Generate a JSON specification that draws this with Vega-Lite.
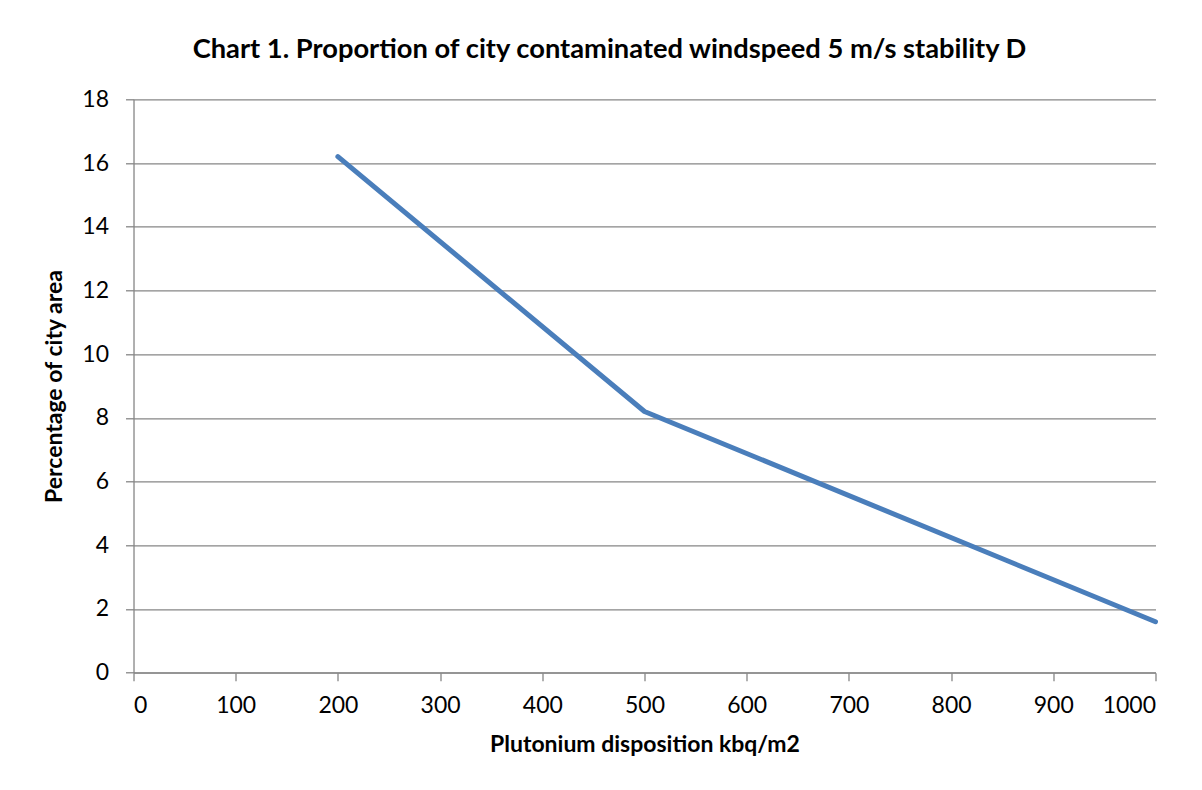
{
  "$schema": "https://vega.github.io/schema/vega-lite/v6.json",
  "autosize": {"type": "none"},
  "padding": {"left": 133.5, "top": 99.3, "right": 46, "bottom": 117},
  "width": 1022,
  "height": 573.4,
  "background": "#ffffff",
  "title": {
    "text": "Chart 1. Proportion of city contaminated windspeed 5 m/s stability D",
    "font": "Lato",
    "fontSize": 27.3,
    "fontWeight": "bold",
    "color": "#000000",
    "anchor": "middle",
    "frame": "group",
    "baseline": "alphabetic",
    "offset": 3,
    "dx": -35
  },
  "data": {
    "values": [
      {"deposition": 200, "percentage": 16.2},
      {"deposition": 500, "percentage": 8.2},
      {"deposition": 1000, "percentage": 1.6}
    ]
  },
  "mark": {"type": "line", "color": "#4a7ebb", "strokeWidth": 5, "strokeCap": "round", "strokeJoin": "round"},
  "encoding": {
    "x": {
      "field": "deposition",
      "type": "quantitative",
      "scale": {"domain": [0, 1000], "nice": false, "zero": true},
      "axis": {
        "title": "Plutonium disposition kbq/m2",
        "values": [0, 100, 200, 300, 400, 500, 600, 700, 800, 900, 1000],
        "format": "d",
        "grid": false,
        "labelPadding": 14,
        "titlePadding": 16
      }
    },
    "y": {
      "field": "percentage",
      "type": "quantitative",
      "scale": {"domain": [0, 18], "nice": false},
      "axis": {
        "title": "Percentage of city area",
        "values": [0, 2, 4, 6, 8, 10, 12, 14, 16, 18],
        "format": "d",
        "grid": true,
        "labelPadding": 17,
        "titlePadding": 15
      }
    }
  },
  "config": {
    "view": {"stroke": null},
    "axis": {
      "labelFont": "Lato",
      "labelFontSize": 23,
      "labelColor": "#000000",
      "titleFont": "Lato",
      "titleFontSize": 23,
      "titleFontWeight": "bold",
      "titleColor": "#000000",
      "domainColor": "#868686",
      "domainWidth": 1.3,
      "tickColor": "#868686",
      "tickWidth": 1.3,
      "tickSize": 8,
      "gridColor": "#868686",
      "gridWidth": 1.3,
      "gridOpacity": 1
    }
  }
}
